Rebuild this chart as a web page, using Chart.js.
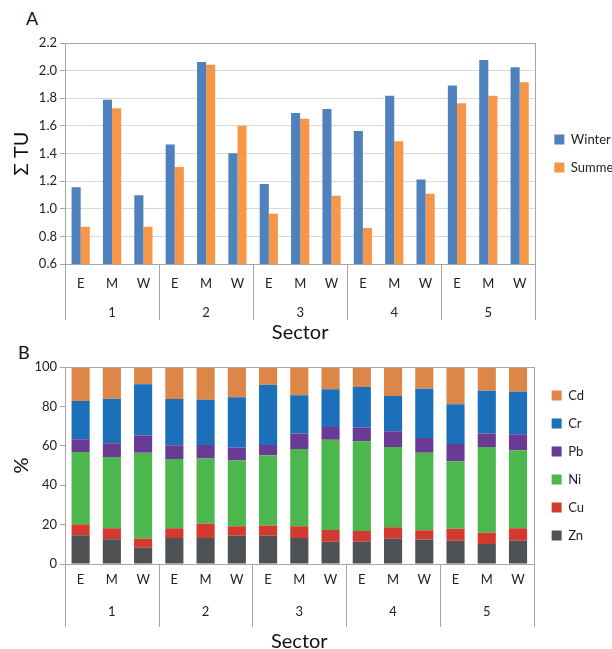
<!DOCTYPE html>
<html>
<head>
<meta charset="utf-8">
<script src="https://cdn.jsdelivr.net/npm/chart.js@4"></script>
<style>
  body { margin: 0; background: #fff; font-family: Lato, sans-serif; }
  .panel { position: absolute; left: 0; width: 612px; }
  .tag { position: absolute; font-size: 18px; color: #111; }
</style>
</head>
<body>
<div class="tag" style="left:26px;top:7px;">A</div>
<div class="tag" style="left:18px;top:341px;">B</div>
<div class="panel" style="top:0;height:345px;"><canvas id="chartA"></canvas></div>
<div class="panel" style="top:340px;height:309px;"><canvas id="chartB"></canvas></div>
<script>
const sectors = ['1', '2', '3', '4', '5'];
const sites = ['E', 'M', 'W'];

// panel A: sum of toxic units
const winter = [1.155, 1.79, 1.097, 1.466, 2.062, 1.401, 1.179, 1.693, 1.722, 1.563, 1.819, 1.211, 1.893, 2.077, 2.024];
const summer = [0.87, 1.727, 0.87, 1.302, 2.043, 1.601, 0.964, 1.652, 1.095, 0.861, 1.488, 1.109, 1.763, 1.819, 1.915];

// panel B: share of each metal (%)
const zn = [14.6, 12.6, 8.3, 13.2, 13.2, 14.3, 14.3, 13.2, 11.3, 11.3, 12.8, 12.5, 11.8, 10.2, 11.8];
const cu = [5.6, 5.6, 4.6, 5.0, 7.2, 4.9, 5.2, 6.0, 5.9, 5.4, 5.8, 4.6, 6.1, 5.7, 6.3];
const ni = [36.7, 36.1, 43.6, 35.1, 33.1, 33.4, 35.7, 39.2, 45.9, 45.6, 40.8, 39.4, 34.1, 43.5, 39.7];
const pb = [6.4, 7.0, 8.7, 7.0, 6.9, 6.5, 5.2, 7.8, 6.4, 7.0, 8.0, 7.5, 8.9, 6.8, 8.0];
const cr = [19.4, 22.6, 26.1, 23.4, 23.0, 25.5, 30.6, 19.4, 19.2, 20.6, 17.9, 24.9, 20.2, 21.7, 21.6];
const cd = [17.3, 16.1, 8.7, 16.3, 16.6, 15.4, 9.0, 14.4, 11.3, 10.1, 14.7, 11.1, 18.9, 12.1, 12.6];

const labels = sectors.flatMap(() => sites);
const font = 'Lato';
const axisGrey = '#a6a6a6';

// plot frame + sector separators below the axis
const frame = {
  id: 'frame',
  afterLayout(chart, args, opts) {
    // nudge legend a bit right of the plot, like the original
    chart.legend.left += opts.legendShift;
    chart.legend.right += opts.legendShift;
  },
  afterDraw(chart, args, opts) {
    const { ctx, chartArea: a, scales: { x } } = chart;
    ctx.save();
    ctx.strokeStyle = axisGrey;
    ctx.lineWidth = 1;
    ctx.strokeRect(Math.round(a.left) + 0.5, Math.round(a.top) + 0.5, Math.round(a.width), Math.round(a.height));
    const xs = [a.left];
    for (let i = sites.length; i < labels.length; i += sites.length) {
      xs.push((x.getPixelForTick(i - 1) + x.getPixelForTick(i)) / 2);
    }
    xs.push(a.right);
    ctx.beginPath();
    xs.forEach(px => {
      const p = Math.round(px) + 0.5;
      ctx.moveTo(p, a.bottom);
      ctx.lineTo(p, a.bottom + opts.depth);
    });
    ctx.stroke();
    ctx.restore();
  }
};

function xAxes(stacked, labelPad, groupPad, groupHeight, titlePad) {
  return {
    x: {
      type: 'category',
      labels: labels,
      stacked: stacked,
      grid: { display: false, drawTicks: false },
      border: { display: true, color: axisGrey },
      ticks: { padding: labelPad, color: '#222', font: { family: font, size: 13 }, maxRotation: 0, autoSkip: false },
      afterFit: s => { s.height = 30; }
    },
    x2: {
      type: 'category',
      labels: sectors,
      position: 'bottom',
      grid: { display: false, drawTicks: false },
      border: { display: false },
      ticks: { padding: groupPad, color: '#222', font: { family: font, size: 13 } },
      title: { display: true, text: 'Sector', color: '#111', font: { family: font, size: 20, lineHeight: 1 }, padding: { top: 0, bottom: titlePad } },
      afterFit: s => { s.height = groupHeight; }
    }
  };
}

const legendLabels = { boxWidth: 10, boxHeight: 10, padding: 15, color: '#222', font: { family: font, size: 13 } };

new Chart(document.getElementById('chartA'), {
  type: 'bar',
  data: {
    labels: labels,
    datasets: [
      { label: 'Winter', data: winter, backgroundColor: '#4f81bd', xAxisID: 'x' },
      { label: 'Summer', data: summer, backgroundColor: '#f79646', xAxisID: 'x' }
    ]
  },
  options: {
    responsive: true,
    maintainAspectRatio: false,
    animation: false,
    layout: { padding: { top: 43, right: -12, bottom: 0, left: 0 } },
    datasets: { bar: { categoryPercentage: 0.58, barPercentage: 1 } },
    scales: {
      ...xAxes(false, 12, 11, 51, 2),
      y: {
        min: 0.6, max: 2.2,
        ticks: { stepSize: 0.2, padding: 3, color: '#222', font: { family: font, size: 13 }, callback: v => v.toFixed(1) },
        grid: { color: '#d9d9d9', tickLength: 5, tickColor: axisGrey },
        border: { display: true, color: axisGrey },
        title: { display: true, text: 'Σ TU', color: '#111', font: { family: font, size: 20 }, padding: { top: 10, bottom: 0 } },
        afterFit: s => { s.width = 65; }
      }
    },
    plugins: {
      frame: { depth: 56, legendShift: 4 },
      tooltip: { enabled: false },
      legend: { position: 'right', fullSize: false, labels: legendLabels }
    }
  },
  plugins: [frame]
});

const metals = [
  { label: 'Zn', data: zn, color: '#4e5254' },
  { label: 'Cu', data: cu, color: '#d33a2f' },
  { label: 'Ni', data: ni, color: '#4bb74c' },
  { label: 'Pb', data: pb, color: '#6a3b95' },
  { label: 'Cr', data: cr, color: '#1b70b9' },
  { label: 'Cd', data: cd, color: '#dc8748' }
];

new Chart(document.getElementById('chartB'), {
  type: 'bar',
  data: {
    labels: labels,
    datasets: metals.map(m => ({ label: m.label, data: m.data, backgroundColor: m.color, xAxisID: 'x' }))
  },
  options: {
    responsive: true,
    maintainAspectRatio: false,
    animation: false,
    layout: { padding: { top: 27, right: 21, bottom: 0, left: 0 } },
    datasets: { bar: { categoryPercentage: 1, barPercentage: 0.58 } },
    scales: {
      ...xAxes(true, 8, 10, 55, -3),
      y: {
        stacked: true,
        min: 0, max: 100,
        ticks: { stepSize: 20, padding: 3, color: '#222', font: { family: font, size: 13 } },
        grid: { drawOnChartArea: false, tickLength: 5, color: axisGrey },
        border: { display: true, color: axisGrey },
        title: { display: true, text: '%', color: '#111', font: { family: font, size: 20 }, padding: { top: 10, bottom: 0 } },
        afterFit: s => { s.width = 65; }
      }
    },
    plugins: {
      frame: { depth: 63, legendShift: 3 },
      tooltip: { enabled: false },
      legend: { position: 'right', fullSize: false, reverse: true, labels: legendLabels }
    }
  },
  plugins: [frame]
});
</script>
</body>
</html>
